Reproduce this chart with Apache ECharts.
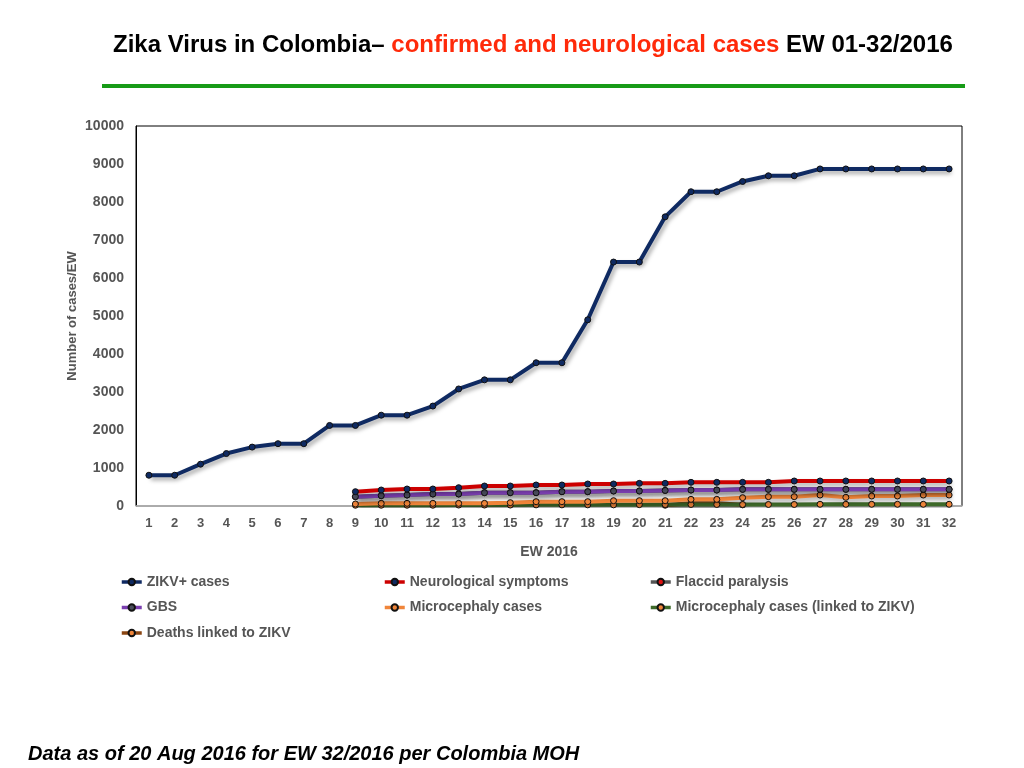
<!DOCTYPE html>
<html>
<head>
<meta charset="utf-8">
<style>
html,body{margin:0;padding:0;background:#fff;}
#chart{width:1024px;height:768px;}
</style>
<script src="https://cdn.jsdelivr.net/npm/echarts@6/dist/echarts.min.js"></script>
</head>
<body>
<div id="chart"></div>
<script>
var weeks = ['1','2','3','4','5','6','7','8','9','10','11','12','13','14','15','16','17','18','19','20','21','22','23','24','25','26','27','28','29','30','31','32'];
var yTicks = [0,1000,2000,3000,4000,5000,6000,7000,8000,9000,10000];
var zikv = [810,810,1100,1380,1550,1640,1640,2120,2120,2390,2390,2630,3080,3320,3320,3770,3770,4900,6420,6420,7610,8270,8270,8540,8690,8690,8870,8870,8870,8870,8870,8870];
var neuro = [null,null,null,null,null,null,null,null,377,421,447,447,482,526,526,553,553,579,579,596,596,623,623,623,623,658,658,658,658,658,658,658];
var flaccid = [null,null,null,null,null,null,null,null,246,272,289,316,316,351,351,351,377,377,395,395,410,420,420,439,439,439,439,439,439,439,439,439];
var gbs = [null,null,null,null,null,null,null,null,246,272,289,316,316,351,351,351,377,377,395,395,410,420,420,439,439,439,439,439,439,439,439,439];
var micro = [null,null,null,null,null,null,null,null,53,70,70,70,70,70,88,114,114,114,140,140,140,175,175,219,246,246,289,228,263,263,289,289];
var microZ = [null,null,null,null,null,null,null,null,20,20,20,20,25,25,25,30,30,30,30,35,38,40,40,40,40,40,45,45,45,45,45,45];
var deaths = [null,null,null,null,null,null,null,null,null,null,null,null,null,null,null,null,null,null,null,null,20,70,70,30,null,null,null,null,null,null,null,null];

var FONT = '"Liberation Sans", Arial, sans-serif';
var shadow = {shadowColor:'rgba(0,0,0,0.35)', shadowBlur:4, shadowOffsetX:2, shadowOffsetY:3};

function mk(name, data, lineColor, markColor, z) {
  return {
    name: name, type: 'line', data: data, z: z,
    symbol: 'circle', symbolSize: 6, showSymbol: true,
    connectNulls: false,
    lineStyle: Object.assign({color: lineColor, width: 4}, shadow),
    itemStyle: {color: markColor, borderColor: '#111', borderWidth: 1},
    emphasis: {disabled: true},
    animation: false
  };
}

var legendText = {fontFamily: FONT, fontWeight: 'bold', fontSize: 14, color: '#555', lineHeight: 16};
function lg(left, names) {
  return {
    orient: 'vertical', left: left, top: 574, padding: 0, itemWidth: 20, itemHeight: 8, itemGap: 9.5,
    data: names, textStyle: legendText, selectedMode: false,
    lineStyle: {width: 3.5, shadowBlur: 0, shadowOffsetX: 0, shadowOffsetY: 0, shadowColor: 'transparent'}
  };
}

var chart = echarts.init(document.getElementById('chart'));
chart.setOption({
  backgroundColor: '#fff',
  animation: false,
  title: {
    left: 113, top: 33, padding: 0,
    text: '{a|Zika Virus in Colombia– }{b|confirmed and neurological cases}{a| EW 01-32/2016}',
    textStyle: {
      rich: {
        a: {fontFamily: FONT, fontWeight: 'bold', fontSize: 24, color: '#000'},
        b: {fontFamily: FONT, fontWeight: 'bold', fontSize: 24, color: '#ff2a0a'}
      }
    }
  },
  graphic: [
    {type: 'rect', shape: {x: 102, y: 84, width: 863, height: 4}, style: {fill: '#179b17'}},
    {type: 'text', left: 28, top: 744, style: {text: 'Data as of 20 Aug 2016 for EW 32/2016 per Colombia MOH', font: 'italic bold 20px "Liberation Sans", Arial, sans-serif', fill: '#000'}}
  ],
  legend: [
    lg(120, ['ZIKV+ cases', 'GBS', 'Deaths linked to ZIKV']),
    lg(383, ['Neurological symptoms', 'Microcephaly cases']),
    lg(649, ['Flaccid paralysis', 'Microcephaly cases (linked to ZIKV)'])
  ],
  grid: {left: 136, right: 62, top: 126, bottom: 262, show: true, borderColor: '#000', borderWidth: 1, backgroundColor: 'transparent'},
  xAxis: {
    type: 'category', data: weeks, boundaryGap: true,
    name: 'EW 2016', nameLocation: 'middle', nameGap: 39,
    nameTextStyle: {fontFamily: FONT, fontWeight: 'bold', fontSize: 14, color: '#555'},
    axisLine: {lineStyle: {color: '#bbb', width: 1.5}},
    axisTick: {show: false},
    axisLabel: {fontFamily: FONT, fontWeight: 'bold', fontSize: 13, color: '#555', margin: 11, interval: 0}
  },
  yAxis: {
    type: 'value', min: yTicks[0], max: yTicks[yTicks.length - 1], interval: yTicks[1] - yTicks[0],
    name: 'Number of cases/EW', nameLocation: 'middle', nameGap: 57, nameMoveOverlap: false,
    nameTextStyle: {fontFamily: FONT, fontWeight: 'bold', fontSize: 13, color: '#555'},
    axisLine: {show: true, lineStyle: {color: '#000'}},
    axisTick: {show: false},
    splitLine: {show: false},
    axisLabel: {fontFamily: FONT, fontWeight: 'bold', fontSize: 14, color: '#555', margin: 12, formatter: function (v) { return String(v); }}
  },
  series: [
    mk('ZIKV+ cases', zikv, '#0f2a62', '#0f2a62', 10),
    mk('Neurological symptoms', neuro, '#cc0000', '#0f2a62', 9),
    mk('Flaccid paralysis', flaccid, '#555555', '#dd1111', 7),
    mk('GBS', gbs, '#7b3fb0', '#4a4d5c', 8),
    mk('Microcephaly cases', micro, '#f0853a', '#f0853a', 6),
    mk('Microcephaly cases (linked to ZIKV)', microZ, '#3f6b2a', '#f0853a', 5),
    mk('Deaths linked to ZIKV', deaths, '#8a4512', '#f0853a', 4)
  ]
});
</script>
</body>
</html>
